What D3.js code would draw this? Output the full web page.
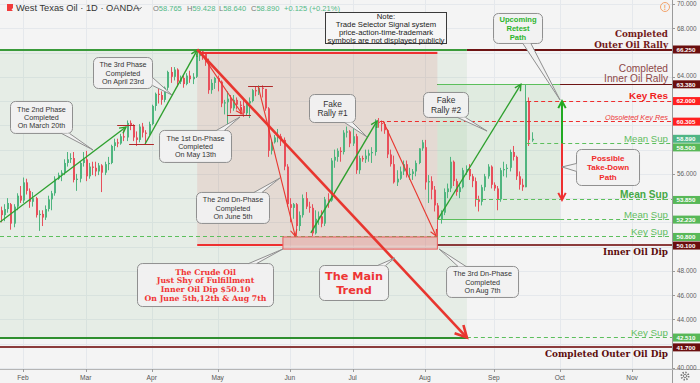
<!DOCTYPE html>
<html>
<head>
<meta charset="utf-8">
<script src="https://cdn.jsdelivr.net/npm/d3@7/dist/d3.min.js"></script>
<style>
html,body{margin:0;padding:0;background:#f4f4f4;}
svg{display:block;}
</style>
</head>
<body>
<svg id="chart" width="700" height="383"></svg>
<script>
// ================= DATA =================
// Daily bars (trading days, 23 Jan 2019 -> 18 Sep 2019), West Texas Oil, OANDA
const barOpen = [
 53.0,52.6,53.1,53.5,51.9,53.3,54.2,
 53.8,55.3,54.6,53.7,54.0,52.6,52.7,52.4,53.1,53.9,54.4,55.6,55.9,56.1,56.9,57.2,57.3,55.5,55.6,56.9,
 57.2,55.8,56.6,56.5,56.2,56.7,56.1,56.8,56.9,58.3,58.6,58.5,59.1,59.0,60.2,60.0,59.0,58.8,59.9,59.4,59.3,
 60.1,61.6,62.6,62.5,62.1,63.1,64.4,64.0,64.6,63.6,63.9,63.4,64.1,63.8,64.0,65.7,66.1,65.9,65.1,62.9,63.5,
 63.9,63.6,61.8,61.9,62.2,61.4,62.1,61.7,61.6,61.0,61.8,62.0,62.9,62.8,63.1,63.0,61.4,57.9,58.6,59.0,59.1,58.8,56.6,
 53.5,53.2,53.5,51.7,52.6,54.0,53.3,53.2,51.1,52.3,52.5,51.9,53.9,53.8,57.1,57.4,57.9,57.8,59.4,59.5,
 58.5,59.1,56.3,57.3,57.2,57.5,57.7,57.8,60.3,60.2,60.1,59.6,57.6,56.8,55.3,55.6,56.2,56.8,55.9,56.0,56.2,56.9,58.1,
 58.2,55.3,55.4,54.7,53.4,52.2,52.8,54.5,54.8,57.0,55.4,54.5,54.9,56.3,56.4,55.8,55.4,53.9,53.7,54.9,55.8,56.6,
 55.1,54.8,53.9,56.3,56.4,56.5,57.8,57.4,55.8,55.1,54.9,62.0,58.765];
const barHigh = [
 53.3,53.5,54.0,53.6,53.5,54.4,55.0,
 55.7,55.6,54.8,54.5,54.1,53.0,53.0,53.4,54.2,54.6,55.8,56.1,56.3,57.2,57.8,57.7,57.8,56.0,57.0,57.8,
 57.9,56.9,57.0,57.0,56.9,56.8,57.0,57.4,58.4,58.9,58.9,59.3,59.6,60.4,60.4,60.1,59.5,60.1,60.2,59.6,60.3,
 61.7,62.7,63.0,62.8,63.2,64.5,64.8,64.8,64.7,64.1,64.1,64.3,64.5,64.3,65.9,66.25,66.2,66.0,65.5,63.8,64.0,
 64.1,63.7,62.1,62.8,62.5,62.5,62.3,62.0,62.2,62.0,62.3,63.0,63.2,63.3,63.3,63.0,61.5,58.8,59.2,59.7,59.3,59.0,56.8,
 54.0,53.6,53.6,52.9,54.3,54.5,53.7,53.5,53.0,52.9,53.0,54.1,54.4,57.3,58.0,58.1,58.2,59.6,59.9,59.6,
 60.0,59.3,57.5,57.5,58.0,58.0,58.2,60.5,60.6,60.4,60.3,59.7,58.0,57.5,56.3,56.6,57.1,57.1,56.5,56.4,57.1,58.1,58.8,
 58.8,55.9,55.8,55.0,53.6,53.0,54.8,55.2,57.4,57.1,55.6,55.2,56.5,56.7,56.8,56.0,55.7,54.2,55.1,56.0,56.8,56.7,
 55.3,55.0,56.5,57.0,56.8,58.0,58.3,57.5,56.2,55.6,63.38,62.3,59.428];
const barLow = [
 52.0,52.1,52.8,51.4,51.6,53.0,53.6,
 53.6,54.3,53.2,53.3,52.4,51.3,51.7,52.2,52.9,53.0,54.2,55.5,55.4,55.9,56.6,56.9,55.3,54.6,55.3,56.6,
 55.4,55.6,55.9,55.8,55.9,54.5,55.9,56.3,56.8,57.9,58.2,58.4,58.7,58.7,59.6,58.7,58.3,58.6,59.0,58.5,59.2,
 60.0,61.2,61.8,61.7,61.9,62.9,63.5,63.7,63.2,63.4,63.1,63.3,63.5,63.4,63.9,65.3,65.4,64.9,62.6,62.6,63.0,
 62.8,61.5,60.9,60.0,61.0,61.2,61.3,60.9,60.7,60.8,60.6,61.9,62.4,62.5,62.3,61.2,57.4,57.6,58.5,58.6,58.3,56.3,53.3,
 52.0,52.3,50.8,51.3,52.4,53.1,52.8,50.85,51.0,51.8,51.6,51.7,53.2,53.7,56.5,57.0,57.0,57.6,59.0,58.2,
 58.3,56.0,56.0,57.0,56.9,57.0,56.9,57.5,59.8,59.5,59.3,57.3,56.6,55.2,55.0,55.5,55.9,55.7,55.5,55.5,55.8,56.8,57.9,
 54.7,53.6,53.9,52.9,50.8,51.9,52.6,54.0,54.5,55.0,54.2,54.0,54.8,55.9,55.5,54.9,53.3,52.9,53.4,54.6,55.6,54.8,
 54.6,53.0,53.7,55.8,55.7,56.2,57.1,55.5,54.7,54.6,54.9,58.3,58.64];
const barClose = [
 52.6,53.1,53.6,51.9,53.3,54.2,53.8,
 55.3,54.6,53.7,54.0,52.6,52.7,52.4,53.1,53.9,54.4,55.6,55.9,56.1,56.9,57.2,57.3,55.5,55.6,56.9,57.2,
 55.8,56.6,56.5,56.2,56.7,56.1,56.8,56.9,58.3,58.6,58.5,59.1,59.0,60.2,60.0,59.0,58.8,59.9,59.4,59.3,60.1,
 61.6,62.6,62.5,62.1,63.1,64.4,64.0,64.6,63.6,63.9,63.4,64.1,63.8,64.0,65.7,66.1,65.9,65.2,62.9,63.5,63.9,
 63.6,61.8,61.9,62.2,61.4,62.1,61.7,61.6,61.0,61.8,62.0,62.9,62.8,63.1,63.0,61.4,57.9,58.6,59.0,59.1,58.8,56.6,53.5,
 53.2,53.5,51.7,52.6,54.0,53.3,53.2,51.1,52.3,52.5,51.9,53.9,53.8,57.1,57.4,57.9,57.8,59.4,59.5,58.5,
 59.1,56.3,57.3,57.2,57.5,57.7,57.8,60.3,60.2,60.1,59.6,57.6,56.8,55.3,55.6,56.2,56.8,55.9,56.0,56.2,56.9,58.1,58.6,
 55.3,55.4,54.7,53.4,52.2,52.8,54.5,54.8,57.0,55.4,54.5,54.9,56.3,56.4,55.8,55.4,53.9,53.7,54.9,55.8,56.6,55.1,
 54.8,53.9,56.3,56.4,56.5,57.8,57.4,55.8,55.1,54.9,62.0,58.8,58.89];

const monthLabels   = ["Feb","Mar","Apr","May","Jun","Jul","Aug","Sep","Oct","Nov"];
const monthFirstBar = [7,27,48,69,92,112,135,157,178,201];
const priceTicks = [40,42,44,46,48,50,52,54,56,58,60,62,64,66,68,70];

const levelPrices = [66.25,63.38,62.0,60.305,58.89,58.5,53.85,52.23,50.8,50.1,42.51,41.7];
const levelKinds  = ["outer","outer","res","res","last","sup","sup","sup","sup","outer","sup","outer"];

const headerTitle = "West Texas Oil · 1D · OANDA";
const headerOHLC  = [["O","58.765"],["H","59.428"],["L","58.640"],["C","58.890"]];
const headerChange = "+0.125 (+0.21%)";

// ================= SCALES / LAYOUT =================
const W = 700, H = 383, PR = 672, PB = 369;
const x = d3.scaleLinear().domain([7, 201]).range([23, 632]);
const y = d3.scaleLinear().domain([40, 70]).range([368, 4]);
const XL = x.invert(0), XR = x.invert(PR);
const SANS = "'Liberation Sans', Arial, sans-serif";
const SERIF = "'DejaVu Serif', Georgia, serif";
const DSANS = "'DejaVu Sans', Verdana, sans-serif";

const svg = d3.select("#chart");
svg.append("rect").attr("width", W).attr("height", H).attr("fill", "#f4f4f4");
svg.append("defs").append("clipPath").attr("id", "plotclip")
  .append("rect").attr("width", PR).attr("height", PB);
const plot = svg.append("g").attr("clip-path", "url(#plotclip)");

// grid
plot.append("g").selectAll("line").data(monthFirstBar).join("line")
  .attr("x1", d => Math.round(x(d)) + 0.5).attr("x2", d => Math.round(x(d)) + 0.5)
  .attr("y1", 0).attr("y2", PB).attr("stroke", "#e5e8ec").attr("stroke-width", 1);
plot.append("g").selectAll("line").data(priceTicks).join("line")
  .attr("x1", 0).attr("x2", PR)
  .attr("y1", d => Math.round(y(d)) + 0.5).attr("y2", d => Math.round(y(d)) + 0.5)
  .attr("stroke", "#e5e8ec").attr("stroke-width", 1);

// zones
const zones = [
  {from: XL, to: 148.4, top: 66.25, bot: 42.51, fill: "rgba(80,165,80,0.085)"},
  {from: 62.5, to: 139, top: 66.25, bot: 50.1, fill: "rgba(215,85,75,0.12)"},
  {from: 139, to: 178.1, top: 63.38, bot: 52.23, fill: "rgba(80,175,80,0.12)"}
];
plot.append("g").selectAll("rect").data(zones).join("rect")
  .attr("x", d => x(d.from)).attr("width", d => x(d.to) - x(d.from))
  .attr("y", d => y(d.top)).attr("height", d => y(d.bot) - y(d.top))
  .attr("fill", d => d.fill);

// candles
const bars = barOpen.map((o, i) => ({i, o, h: barHigh[i], l: barLow[i], c: barClose[i]}));
const UP = "#4fb57f", DN = "#e84f5b";
const cg = plot.append("g");
cg.selectAll("line").data(bars).join("line")
  .attr("x1", d => Math.round(x(d.i)) + 0.5).attr("x2", d => Math.round(x(d.i)) + 0.5)
  .attr("y1", d => y(d.h)).attr("y2", d => y(d.l))
  .attr("stroke", d => d.c >= d.o ? UP : DN).attr("stroke-width", 1);
cg.selectAll("rect").data(bars).join("rect")
  .attr("x", d => Math.round(x(d.i)))
  .attr("width", 2)
  .attr("y", d => y(Math.max(d.o, d.c)))
  .attr("height", d => Math.max(1, Math.abs(y(d.o) - y(d.c))))
  .attr("fill", d => d.c >= d.o ? UP : DN);

// horizontal level lines
function hy(p, w) { const v = y(p); return (w % 2 === 1) ? Math.round(v - 0.5) + 0.5 : Math.round(v); }
const GREEN_D = "#5cbf5c", RED_D = "#ee2e2e", MAROON = "#6e1414", MAROON2 = "#8c3c3c";
const hlines = [
  {p: 66.25, from: 148.4, to: XR, color: MAROON, w: 2},
  {p: 63.38, from: 139, to: XR, color: MAROON, w: 1},
  {p: 50.1, from: 139, to: XR, color: MAROON2, w: 2},
  {p: 41.7, from: XL, to: XR, color: MAROON2, w: 2},
  {p: 62.0, from: 167.6, to: XR, color: RED_D, w: 1, dash: "4,3"},
  {p: 60.305, from: 120.7, to: XR, color: RED_D, w: 1, dash: "4,3"},
  {p: 58.5, from: 167.3, to: XR, color: GREEN_D, w: 1, dash: "4,3"},
  {p: 53.85, from: 151, to: XR, color: GREEN_D, w: 1, dash: "4,3"},
  {p: 52.23, from: 178.1, to: XR, color: GREEN_D, w: 1, dash: "4,3"},
  {p: 50.8, from: XL, to: XR, color: GREEN_D, w: 1, dash: "4,3"},
  {p: 42.51, from: 148.4, to: XR, color: GREEN_D, w: 1, dash: "4,3"},
  {p: 66.25, from: XL, to: 148.4, color: "#3a9a3a", w: 2},
  {p: 42.51, from: XL, to: 148.4, color: "#2f8f2f", w: 2},
  {p: 66.0, from: 63.4, to: 139, color: "#ee3030", w: 2},
  {p: 50.1, from: 62.5, to: 89.8, color: "#ee3030", w: 2},
  {p: 63.38, from: 139, to: 178.1, color: GREEN_D, w: 1},
  {p: 52.23, from: 139, to: 178.1, color: GREEN_D, w: 1},
  {p: 59.95, from: 37, to: 42.7, color: "#b02a2a", w: 1},
  {p: 58.46, from: 40.8, to: 48.7, color: "#b02a2a", w: 1},
  {p: 60.85, from: 72, to: 79.6, color: "#b02a2a", w: 1},
  {p: 63.24, from: 78.7, to: 86.6, color: "#b02a2a", w: 1}
];
plot.append("g").selectAll("line").data(hlines).join("line")
  .attr("x1", d => x(d.from)).attr("x2", d => x(d.to))
  .attr("y1", d => hy(d.p, d.w)).attr("y2", d => hy(d.p, d.w))
  .attr("stroke", d => d.color).attr("stroke-width", d => d.w)
  .attr("stroke-dasharray", d => d.dash || null);

// pink box at the inner dip
plot.append("rect")
  .attr("x", x(89.8)).attr("width", x(139) - x(89.8))
  .attr("y", y(50.8)).attr("height", y(49.8) - y(50.8))
  .attr("fill", "rgba(235,120,120,0.28)").attr("stroke", "#e85a5a").attr("stroke-width", 1);

// arrows
const G = "#2ea02e", R = "#e8362f";
const arrows = [
  {from: [-0.33, 52.03], to: [39.8, 59.86], color: G, w: 1.4, head: 7},
  {from: [45.9, 58.46], to: [62.5, 66.2], color: G, w: 1.4, head: 7},
  {from: [98.7, 51.13], to: [119.8, 60.36], color: G, w: 1.4, head: 7},
  {from: [139.2, 52.28], to: [165.6, 63.38], color: G, w: 1.4, head: 7},
  {from: [178.7, 58.5], to: [178.7, 62.0], color: "#22aa22", w: 2, head: 8},
  {from: [178.7, 58.5], to: [178.7, 53.85], color: "#ee3030", w: 2, head: 8},
  {from: [62.5, 66.25], to: [148.4, 42.51], color: R, w: 2.6, head: 13},
  {from: [63.4, 66.05], to: [76.8, 60.93], color: R, w: 1.1, head: 7},
  {from: [81.9, 63.24], to: [93.7, 50.88], color: R, w: 1.1, head: 7},
  {from: [121.7, 60.36], to: [138.6, 50.88], color: R, w: 1.1, head: 7}
];
const ag = plot.append("g");
arrows.forEach(a => {
  const x1 = x(a.from[0]), y1 = y(a.from[1]), x2 = x(a.to[0]), y2 = y(a.to[1]);
  ag.append("line").attr("x1", x1).attr("y1", y1).attr("x2", x2).attr("y2", y2)
    .attr("stroke", a.color).attr("stroke-width", a.w);
  const ang = Math.atan2(y2 - y1, x2 - x1), s = Math.PI / 6.5, L = a.head;
  const p1 = [x2 - L * Math.cos(ang - s), y2 - L * Math.sin(ang - s)];
  const p2 = [x2 - L * Math.cos(ang + s), y2 - L * Math.sin(ang + s)];
  ag.append("path").attr("d", `M${p1[0]},${p1[1]}L${x2},${y2}L${p2[0]},${p2[1]}`)
    .attr("fill", "none").attr("stroke", a.color).attr("stroke-width", a.w);
});

// ================= CALLOUTS =================
const styles = {
  note:  {font: SANS, size: 7.2, weight: "normal", fill: "#333", lh: 8.3},
  fake:  {font: SANS, size: 8.4, weight: "normal", fill: "#333", lh: 9.7},
  green: {font: SANS, size: 7.6, weight: "bold", fill: "#2db52d", lh: 8.8},
  red:   {font: SANS, size: 8, weight: "bold", fill: "#f02a2a", lh: 9.3},
  crude: {font: SERIF, size: 7.4, weight: "bold", fill: "#f03535", lh: 8.7, fitW: 122},
  main:  {font: DSANS, size: 11.3, weight: "bold", fill: "#ee3535", lh: 13.3, fitW: 58}
};
const callouts = [
  {text: ["The 2nd Phase", "Completed", "On March 20th"], box: [2.86, 62.01, 62, 32], tip: [29.3, 57.97], s: "note"},
  {text: ["The 3rd Phase", "Completed", "On April 23rd"], box: [29.3, 65.63, 59, 31], tip: [54.47, 62.5], s: "note"},
  {text: ["The 1st Dn-Phase", "Completed", "On May 13th"], box: [50.33, 59.62, 72, 32], tip: [76.13, 60.69], s: "note"},
  {text: ["The 2nd Dn-Phase", "Completed", "On June 5th"], box: [62.11, 54.51, 73, 31], tip: [88.87, 55.66], s: "note"},
  {text: ["Fake", "Rally #1"], box: [98.11, 62.58, 46, 28], tip: [116.59, 59.04], s: "fake"},
  {text: ["Fake", "Rally #2"], box: [134.43, 62.75, 45, 25], tip: [154.82, 59.53], s: "fake"},
  {text: ["Upcoming", "Retest", "Path"], box: [156.73, 69.26, 49, 30], tip: [178.07, 62.09], s: "green"},
  {text: ["Possible", "Take-Down", "Path"], box: [183.17, 58.05, 63, 36], tip: [178.71, 56.57], s: "red"},
  {text: ["The Crude Oil", "Just Shy of Fulfillment", "Inner Oil Dip $50.10", "On June 5th,12th & Aug 7th"], box: [43.32, 48.65, 136, 43], tip: [89.83, 49.81], s: "crude"},
  {text: ["The Main", "Trend"], box: [101.3, 48.49, 69, 35], tip: [125.5, 49.07], s: "main"},
  {text: ["The 3rd Dn-Phase", "Completed", "On Aug 7th"], box: [141.76, 48.41, 72, 31], tip: [139.53, 49.81], s: "note"}
];
const og = svg.append("g");
function drawLines(g, lines, cx, cy, st) {
  const n = lines.length;
  const ts = lines.map((t, k) => g.append("text")
    .attr("x", cx).attr("y", cy + (k - (n - 1) / 2) * st.lh + st.size * 0.36)
    .attr("text-anchor", "middle").attr("font-family", st.font)
    .attr("font-size", st.size).attr("font-weight", st.weight).attr("fill", st.fill).text(t));
  if (st.fitW) {
    const wmax = d3.max(ts, t => t.node().getComputedTextLength());
    const fs = st.size * st.fitW / wmax;
    ts.forEach((t, k) => t.attr("font-size", fs).attr("y", cy + (k - (n - 1) / 2) * st.lh + fs * 0.36));
  }
}
callouts.forEach(c => {
  const st = styles[c.s];
  const bx = x(c.box[0]), by = y(c.box[1]), bw = c.box[2], bh = c.box[3];
  const tx = x(c.tip[0]), ty = y(c.tip[1]);
  const cx = bx + bw / 2, cy = by + bh / 2;
  const dx = tx - cx, dy = ty - cy;
  const tH = dx !== 0 ? (bw / 2) / Math.abs(dx) : Infinity;
  const tV = dy !== 0 ? (bh / 2) / Math.abs(dy) : Infinity;
  let b1, b2;
  if (tV < tH) {
    const ey = dy > 0 ? by + bh : by;
    const ex = Math.max(bx + 7, Math.min(bx + bw - 7, cx + dx * tV));
    b1 = [ex - 4, ey]; b2 = [ex + 4, ey];
  } else {
    const ex = dx > 0 ? bx + bw : bx;
    const ey = Math.max(by + 7, Math.min(by + bh - 7, cy + dy * tH));
    b1 = [ex, ey - 4]; b2 = [ex, ey + 4];
  }
  og.append("rect").attr("x", bx + 0.5).attr("y", by + 0.5).attr("width", bw).attr("height", bh)
    .attr("rx", 5).attr("fill", "#f1f1f1").attr("fill-opacity", 0.95)
    .attr("stroke", "#8f8f8f").attr("stroke-width", 1);
  og.append("path").attr("d", `M${b1[0] + 0.5},${b1[1] + 0.5}L${tx},${ty}L${b2[0] + 0.5},${b2[1] + 0.5}`)
    .attr("fill", "#f1f1f1").attr("stroke", "#8f8f8f").attr("stroke-width", 1);
  drawLines(og, c.text, cx + 0.5, cy + 0.5, st);
});

// Note box
const noteLines = ["Note:", "Trade Selector Signal system", "price-action-time-trademark", "symbols are not displayed publicly"];
const noteBox = [103.21, 69.34, 121, 31];
{
  const bx = x(noteBox[0]), by = y(noteBox[1]);
  og.append("rect").attr("x", Math.round(bx) + 0.5).attr("y", Math.round(by) + 0.5)
    .attr("width", noteBox[2]).attr("height", noteBox[3])
    .attr("fill", "#f6f6f6").attr("stroke", "#3a3a3a").attr("stroke-width", 1);
  drawLines(og, noteLines, bx + noteBox[2] / 2 + 0.5, by + noteBox[3] / 2 + 0.5,
    {font: SANS, size: 6.8, weight: "normal", fill: "#222", lh: 7.85, fitW: 117});
}

// ================= RIGHT-SIDE LEVEL LABELS =================
const sideLabels = [
  {text: ["Completed", "Outer Oil Rally"], p: 66.25, below: false, font: SERIF, weight: "bold", italic: false, color: "#731818", size: 9, fitW: 74, lh: 10.2},
  {text: ["Completed", "Inner Oil Rally"], p: 63.38, below: false, font: SANS, weight: "normal", italic: false, color: "#8e4848", size: 10, fitW: 64, lh: 10.6},
  {text: ["Key Res"], p: 62.0, below: false, font: SANS, weight: "bold", italic: false, color: "#f01e1e", size: 10, fitW: 39},
  {text: ["Obsoleted Key Res"], p: 60.305, below: false, font: SANS, weight: "normal", italic: true, color: "#ec3a3a", size: 7.4, fitW: 63},
  {text: ["Mean Sup"], p: 58.5, below: false, font: SANS, weight: "normal", italic: false, color: "#62bd62", size: 9.7, fitW: 44},
  {text: ["Mean Sup"], p: 53.85, below: false, font: SANS, weight: "bold", italic: false, color: "#45a845", size: 10.2, fitW: 48},
  {text: ["Mean Sup"], p: 52.23, below: false, font: SANS, weight: "normal", italic: false, color: "#62bd62", size: 9.7, fitW: 44},
  {text: ["Key Sup"], p: 50.8, below: false, font: SANS, weight: "normal", italic: false, color: "#62bd62", size: 9.7, fitW: 37},
  {text: ["Inner Oil Dip"], p: 50.1, below: true, font: SERIF, weight: "bold", italic: false, color: "#5c0c0c", size: 9, fitW: 65},
  {text: ["Key Sup"], p: 42.51, below: false, font: SANS, weight: "normal", italic: false, color: "#62bd62", size: 9.7, fitW: 37},
  {text: ["Completed Outer Oil Dip"], p: 41.7, below: true, font: SERIF, weight: "bold", italic: false, color: "#5c0c0c", size: 9, fitW: 123}
];
const lg = svg.append("g");
sideLabels.forEach(L => {
  const ts = L.text.map(t => lg.append("text").attr("x", 668).attr("text-anchor", "end")
    .attr("font-family", L.font).attr("font-weight", L.weight)
    .attr("font-style", L.italic ? "italic" : "normal")
    .attr("font-size", L.size).attr("fill", L.color).text(t));
  const wmax = d3.max(ts, t => t.node().getComputedTextLength());
  const fs = L.size * L.fitW / wmax;
  const n = ts.length, ly = y(L.p), lh = L.lh || 9;
  ts.forEach((t, k) => {
    t.attr("font-size", fs);
    const base = L.below ? ly + 9.5 + k * lh : ly - 2 - (n - 1 - k) * lh;
    t.attr("y", base);
  });
});

// ================= AXES =================
const axg = svg.append("g");
axg.append("line").attr("x1", PR + 0.5).attr("x2", PR + 0.5).attr("y1", 0).attr("y2", H)
  .attr("stroke", "#9a9a9a").attr("stroke-width", 1);
axg.append("line").attr("x1", 0).attr("x2", W).attr("y1", PB + 0.5).attr("y2", PB + 0.5)
  .attr("stroke", "#b5b5b5").attr("stroke-width", 1);

// level boxes (with collision push-down)
const levelColor = {outer: "#6a0e0e", res: "#ff2020", last: "#4fb584", sup: "#58b858"};
const lvl = levelPrices.map((p, i) => ({p, kind: levelKinds[i], yy: y(p)})).sort((a, b) => a.yy - b.yy);
for (let i = 1; i < lvl.length; i++) if (lvl[i].yy < lvl[i - 1].yy + 8.6) lvl[i].yy = lvl[i - 1].yy + 8.6;

// price tick labels: hidden where a level box sits, nudged clear when close
const tickPos = priceTicks.map(p => {
  let yy = y(p);
  const near = lvl.reduce((m, l) => Math.abs(l.yy - yy) < Math.abs(m.yy - yy) ? l : m, lvl[0]);
  const d = yy - near.yy;
  if (Math.abs(d) < 5) return null;
  if (Math.abs(d) < 8.2) yy = near.yy + Math.sign(d) * 8.2;
  return {p, yy};
}).filter(Boolean);
axg.selectAll(".pt").data(tickPos).join("text")
  .attr("x", 677).attr("y", d => d.yy + 2.3)
  .attr("font-family", SANS).attr("font-size", 6.4).attr("fill", "#5f5f5f")
  .text(d => d.p.toFixed(3));
axg.selectAll(".ptk").data(tickPos).join("line")
  .attr("x1", PR).attr("x2", PR + 3).attr("y1", d => Math.round(y(d.p)) + 0.5).attr("y2", d => Math.round(y(d.p)) + 0.5)
  .attr("stroke", "#9a9a9a");

const lb = axg.selectAll(".lb").data(lvl).join("g");
lb.append("rect").attr("x", 673).attr("width", 27).attr("y", d => d.yy - 4).attr("height", 8)
  .attr("fill", d => levelColor[d.kind]);
lb.append("text").attr("x", 676.5).attr("y", d => d.yy + 2.3)
  .attr("font-family", SANS).attr("font-size", 6.2).attr("font-weight", "bold").attr("fill", "#fff")
  .text(d => d.p.toFixed(3));

// time axis
const mt = monthLabels.map((m, i) => ({m, b: monthFirstBar[i]}));
axg.selectAll(".mt").data(mt).join("text")
  .attr("x", d => x(d.b)).attr("y", 380).attr("text-anchor", "middle")
  .attr("font-family", SANS).attr("font-size", 6.6).attr("fill", "#555").text(d => d.m);
axg.selectAll(".mtk").data(mt).join("line")
  .attr("x1", d => Math.round(x(d.b)) + 0.5).attr("x2", d => Math.round(x(d.b)) + 0.5)
  .attr("y1", PB).attr("y2", PB + 3).attr("stroke", "#9a9a9a");

// gear icon
axg.append("circle").attr("cx", 685).attr("cy", 376).attr("r", 3.6)
  .attr("fill", "none").attr("stroke", "#777").attr("stroke-width", 1.8).attr("stroke-dasharray", "1.4,1.4");
axg.append("circle").attr("cx", 685).attr("cy", 376).attr("r", 1.6)
  .attr("fill", "none").attr("stroke", "#777").attr("stroke-width", 0.9);

// ================= HEADER =================
const hg = svg.append("g");
hg.append("path").attr("d", "M7,4H13V8L11.5,9.5L13,11H7Z").attr("fill", "#f23b3b");
hg.append("text").attr("x", 16).attr("y", 11).attr("font-family", SANS).attr("font-size", 9.3)
  .attr("fill", "#333").text(headerTitle);
hg.append("path").attr("d", "M137.5,7.2L139.5,9.2L141.5,7.2").attr("fill", "none").attr("stroke", "#444").attr("stroke-width", 0.9);
const ohlcX = [153, 187, 219, 251];
headerOHLC.forEach((d, i) => {
  const t = hg.append("text").attr("x", ohlcX[i]).attr("y", 11).attr("font-family", SANS).attr("font-size", 7.5);
  t.append("tspan").attr("fill", "#777").text(d[0]);
  t.append("tspan").attr("fill", "#53b987").text(d[1]);
});
hg.append("text").attr("x", 284).attr("y", 11).attr("font-family", SANS).attr("font-size", 7.5)
  .attr("fill", "#53b987").text(headerChange);
hg.append("circle").attr("cx", 665).attr("cy", 7).attr("r", 4.5).attr("fill", "none")
  .attr("stroke", "#f3a46c").attr("stroke-width", 1);
hg.append("text").attr("x", 665).attr("y", 9.5).attr("text-anchor", "middle").attr("font-family", SANS)
  .attr("font-size", 7).attr("font-weight", "bold").attr("fill", "#f3a46c").text("!");
</script>
</body>
</html>
